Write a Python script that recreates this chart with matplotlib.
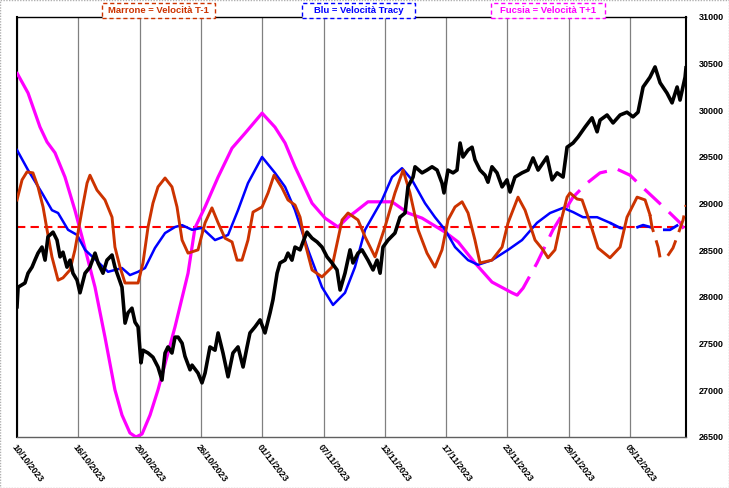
import matplotlib
matplotlib.use("Agg")
import matplotlib.pyplot as plt
from matplotlib.patches import Rectangle
import numpy as np

# ---------------- data ----------------
tick_pos = [0, 4, 8, 12, 16, 20, 24, 28, 32, 36, 40]
tick_labels = ["10/10/2023", "16/10/2023", "20/10/2023", "26/10/2023", "01/11/2023",
               "07/11/2023", "13/11/2023", "17/11/2023", "23/11/2023", "29/11/2023",
               "05/12/2023"]
y_ticks = [26500, 27000, 27500, 28000, 28500, 29000, 29500, 30000, 30500, 31000]
ref_level = 28750

black_t = [0, 0.07, 0.52, 0.72, 0.98, 1.17, 1.37, 1.63, 1.83, 2.02, 2.35, 2.61, 2.81, 3.00,
           3.26, 3.46, 3.65, 3.92, 4.11, 4.44, 4.76, 5.09, 5.29, 5.61, 5.87, 6.20, 6.39, 6.53,
           6.85, 7.05, 7.24, 7.50, 7.70, 7.90, 8.09, 8.22, 8.55, 8.87, 9.20, 9.46, 9.66, 9.85,
           10.11, 10.31, 10.51, 10.77, 10.96, 11.29, 11.42, 11.81, 12.07, 12.27, 12.59, 12.92,
           13.12, 13.44, 13.77, 14.09, 14.42, 14.75, 15.01, 15.20, 15.53, 15.86, 16.18, 16.51,
           16.70, 16.97, 17.16, 17.49, 17.68, 17.94, 18.14, 18.47, 18.66, 18.92, 19.25, 19.58,
           19.90, 20.23, 20.55, 20.88, 21.08, 21.40, 21.73, 21.92, 22.25, 22.51, 22.90, 23.23,
           23.49, 23.69, 23.88, 24.21, 24.66, 24.99, 25.32, 25.51, 25.84, 25.97, 26.43, 26.75,
           27.08, 27.41, 27.73, 27.86, 28.12, 28.45, 28.71, 28.91, 29.10, 29.43, 29.69, 29.88,
           30.21, 30.54, 30.73, 30.99, 31.32, 31.65, 31.97, 32.17, 32.49, 32.95, 33.34, 33.67,
           34.00, 34.58, 34.91, 35.24, 35.63, 35.89, 36.28, 36.61, 37.06, 37.52, 37.85, 38.04,
           38.50, 38.89, 39.35, 39.80, 40.19, 40.52, 40.85, 41.30, 41.63, 41.96, 42.41, 42.74,
           43.07, 43.26, 43.59, 43.65]
black_v = [27895, 28105, 28150, 28255, 28320, 28395, 28470, 28535, 28395, 28645, 28695, 28610,
           28430, 28480, 28320, 28395, 28255, 28180, 28045, 28255, 28320, 28470, 28365, 28255,
           28395, 28450, 28320, 28255, 28105, 27720, 27830, 27880, 27730, 27680, 27295, 27430,
           27400, 27355, 27250, 27110, 27400, 27465, 27400, 27570, 27570, 27505, 27365, 27220,
           27270, 27185, 27080, 27185, 27465, 27430, 27615, 27400, 27145, 27400, 27465, 27250,
           27465, 27615, 27680, 27755, 27615, 27830, 27970, 28255, 28365, 28395, 28470, 28395,
           28535, 28505, 28590, 28695, 28630, 28590, 28535, 28430, 28365, 28290, 28075, 28255,
           28505, 28365, 28470, 28505, 28395, 28290, 28395, 28255, 28535, 28610, 28685, 28855,
           28900, 29180, 29285, 29395, 29330, 29360, 29395, 29360, 29220, 29115, 29360, 29330,
           29360, 29650, 29500, 29575, 29605, 29470, 29360, 29305, 29230, 29395, 29330, 29180,
           29255, 29125, 29285, 29330, 29360, 29490, 29360, 29500, 29255, 29330, 29285, 29605,
           29650, 29715, 29820, 29920, 29770, 29895, 29950, 29865, 29950, 29980, 29930, 29980,
           30250, 30355, 30465, 30295, 30185, 30080, 30250, 30110, 30355, 30455]

# Fucsia = Velocita T+1
mag_t = [0, 0.72, 1.50, 1.96, 2.48, 3.13, 3.78, 4.24, 5.09, 5.74, 6.39, 6.85, 7.37, 7.76, 8.16,
         8.68, 9.20, 10.31, 11.16, 11.61, 12.27, 13.12, 14.03, 14.88, 15.99, 16.83, 17.49,
         18.14, 19.25, 20.10, 20.95, 21.60, 22.05, 22.90, 24.47, 25.51, 26.43, 27.93, 28.78,
         29.88, 30.99, 32.30, 32.63, 33.02, 33.93, 34.97, 36.28, 37.19, 38.04, 39.15, 40.00,
         40.65, 41.50, 42.41, 43.26, 43.65]
mag_v = [30400, 30186, 29821, 29661, 29545, 29285, 28930, 28645, 28105, 27570, 27005, 26735,
         26543, 26500, 26532, 26735, 27005, 27680, 28255, 28740, 28965, 29285, 29595, 29755,
         29970, 29820, 29650, 29395, 29005, 28845, 28750, 28855, 28910, 29020, 29020, 28900,
         28845, 28695, 28590, 28365, 28160, 28045, 28020, 28095, 28365, 28720, 29070, 29220,
         29330, 29370, 29305, 29200, 29070, 28930, 28795, 28695]
mag_forecast_from = 32.63

# Blu = Velocita Tracy
blue_t = [0, 0.72, 1.63, 2.28, 2.68, 3.33, 3.92, 4.44, 5.29, 5.94, 6.85, 7.37, 7.90, 8.35, 9.00,
          9.66, 10.31, 10.77, 11.42, 12.07, 12.92, 13.77, 14.42, 15.07, 15.99, 16.83, 17.49,
          18.14, 18.99, 19.90, 20.62, 21.40, 22.05, 22.71, 23.82, 24.47, 25.12, 25.77, 26.62,
          27.27, 27.93, 28.58, 29.43, 30.08, 30.99, 32.04, 32.95, 33.93, 34.78, 35.63, 36.28,
          36.93, 37.85, 38.69, 39.35, 40.19, 40.85, 41.96, 42.61, 43.46, 43.65]
blue_v = [29575, 29360, 29115, 28930, 28900, 28720, 28665, 28505, 28375, 28270, 28310, 28235,
          28270, 28310, 28525, 28685, 28750, 28770, 28720, 28740, 28610, 28665, 28930, 29220,
          29500, 29330, 29180, 28930, 28505, 28105, 27915, 28045, 28320, 28720, 29040, 29285,
          29380, 29255, 29005, 28855, 28720, 28535, 28395, 28345, 28395, 28505, 28610, 28795,
          28900, 28955, 28910, 28855, 28855, 28795, 28740, 28730, 28770, 28720, 28720, 28805,
          28825]
blue_forecast_from = 38.69

# Marrone = Velocita T-1
brown_t = [0, 0.33, 0.65, 1.04, 1.37, 1.70, 1.96, 2.28, 2.68, 3.00, 3.46, 3.78, 4.24, 4.57,
           4.76, 5.22, 5.74, 6.20, 6.39, 6.72, 7.05, 7.90, 8.22, 8.55, 8.87, 9.20, 9.66, 10.11,
           10.44, 10.77, 11.16, 11.81, 12.27, 12.72, 13.12, 13.57, 14.03, 14.36, 14.68, 15.07,
           15.40, 15.99, 16.38, 16.77, 17.29, 17.68, 18.14, 18.47, 18.79, 19.25, 19.90, 20.55,
           21.21, 21.60, 22.25, 22.71, 23.36, 24.01, 24.66, 25.19, 25.64, 26.17, 26.75, 27.27,
           27.73, 28.12, 28.58, 29.04, 29.43, 29.88, 30.21, 30.99, 31.65, 32.04, 32.69, 33.15,
           33.80, 34.32, 34.65, 35.10, 35.56, 35.89, 36.08, 36.54, 36.87, 37.39, 37.91, 38.69,
           39.35, 39.80, 40.46, 40.98, 41.30, 41.43, 41.83, 41.96, 42.41, 42.80, 43.07, 43.46,
           43.65]
brown_v = [29040, 29255, 29340, 29330, 29180, 28965, 28720, 28430, 28180, 28205, 28290, 28505,
           28930, 29220, 29305, 29145, 29040, 28855, 28535, 28320, 28150, 28150, 28365, 28750,
           29005, 29180, 29275, 29180, 28965, 28610, 28470, 28505, 28795, 28955, 28795, 28630,
           28590, 28395, 28395, 28610, 28910, 28965, 29115, 29305, 29170, 29040, 28985, 28855,
           28580, 28290, 28215, 28320, 28825, 28900, 28825, 28645, 28430, 28750, 29115, 29360,
           29115, 28720, 28470, 28320, 28505, 28825, 28965, 29020, 28900, 28610, 28365, 28395,
           28535, 28795, 29070, 28930, 28610, 28505, 28420, 28505, 28855, 29070, 29115, 29050,
           29040, 28795, 28525, 28420, 28535, 28855, 29070, 29040, 28880, 28750, 28535, 28420,
           28430, 28525, 28645, 28825, 28985]
brown_forecast_from = 41.30

legend_texts = ["Marrone = Velocità T-1", "Blu = Velocità Tracy", "Fucsia = Velocità T+1"]

# ---------------- styling ----------------
C_BROWN = "#cc3300"
C_BLUE = "#0000ff"
C_MAG = "#ff00ff"
FONT = ["Liberation Sans", "DejaVu Sans"]

W, H = 729, 488
fig = plt.figure(figsize=(W / 100, H / 100), dpi=100)
fig.patch.set_facecolor("white")
ax = fig.add_axes([17 / W, 1 - 437 / H, (686 - 17) / W, (437 - 17) / H])


def split(t, v, t0):
    t = np.asarray(t); v = np.asarray(v)
    a = t <= t0 + 1e-9
    b = t >= t0 - 1e-9
    return (t[a], v[a]), (t[b], v[b])


ax.axhline(ref_level, color="#ff0000", lw=1.5, ls=(0, (4, 2.5)), zorder=2)

(s_t, s_v), (d_t, d_v) = split(mag_t, mag_v, mag_forecast_from)
ax.plot(s_t, s_v, color=C_MAG, lw=2.3, zorder=3, solid_capstyle="round")
ax.plot(d_t, d_v, color=C_MAG, lw=2.3, ls=(0, (7, 3.5)), zorder=3)

(s_t, s_v), (d_t, d_v) = split(blue_t, blue_v, blue_forecast_from)
ax.plot(s_t, s_v, color=C_BLUE, lw=1.8, zorder=4)
ax.plot(d_t, d_v, color=C_BLUE, lw=2.0, ls=(0, (6, 4)), zorder=4)

(s_t, s_v), (d_t, d_v) = split(brown_t, brown_v, brown_forecast_from)
ax.plot(s_t, s_v, color=C_BROWN, lw=2.1, zorder=5)
ax.plot(d_t, d_v, color=C_BROWN, lw=2.1, ls=(0, (6, 3)), zorder=5)

ax.plot(black_t, black_v, color="black", lw=2.6, zorder=6, solid_joinstyle="round")

ax.set_xlim(0, 43.65)
ax.set_ylim(26500, 31000)
ax.set_xticks(tick_pos)
ax.set_xticklabels(tick_labels)
ax.xaxis.grid(True, color="#808080", lw=0.9)
ax.yaxis.grid(False)
ax.yaxis.tick_right()
ax.set_yticks(y_ticks)
ax.set_yticklabels([str(v) for v in y_ticks])
ax.tick_params(axis="y", length=0, pad=9, labelsize=6.5)
ax.tick_params(axis="x", length=0, pad=4, labelsize=6.5)
for lab in ax.get_yticklabels():
    lab.set_fontfamily(FONT); lab.set_fontweight("bold")
for lab in ax.get_xticklabels():
    lab.set_fontfamily(FONT); lab.set_fontweight("bold")
    lab.set_rotation(-52); lab.set_ha("left"); lab.set_va("top")
    lab.set_rotation_mode("anchor")

for side in ["left", "right", "top"]:
    ax.spines[side].set_color("black")
ax.spines["left"].set_linewidth(1.5)
ax.spines["right"].set_linewidth(1.5)
ax.spines["top"].set_linewidth(1.0)
ax.spines["bottom"].set_color("#606060")
ax.spines["bottom"].set_linewidth(1.0)

# legend boxes
boxes = [(102, 215, C_BROWN), (302, 415, C_BLUE), (491, 605, C_MAG)]
for (x0, x1, col), txt in zip(boxes, legend_texts):
    r = Rectangle((x0 / W, 1 - 18 / H), (x1 - x0) / W, 15 / H, transform=fig.transFigure,
                  facecolor="white", edgecolor=col, lw=1.0, ls=(0, (3, 2)))
    fig.patches.append(r)
    fig.text((x0 + x1) / 2 / W, 1 - 10.5 / H, txt, color=col, ha="center", va="center",
             fontsize=6.8, fontweight="bold", family=FONT)

# faint outer border
fig.patches.append(Rectangle((0, 0), 1, 1, transform=fig.transFigure, fill=False,
                             edgecolor="#b0b0b0", lw=1.0, ls=(0, (1, 1))))

fig.savefig("out.png", dpi=100, facecolor="white")
